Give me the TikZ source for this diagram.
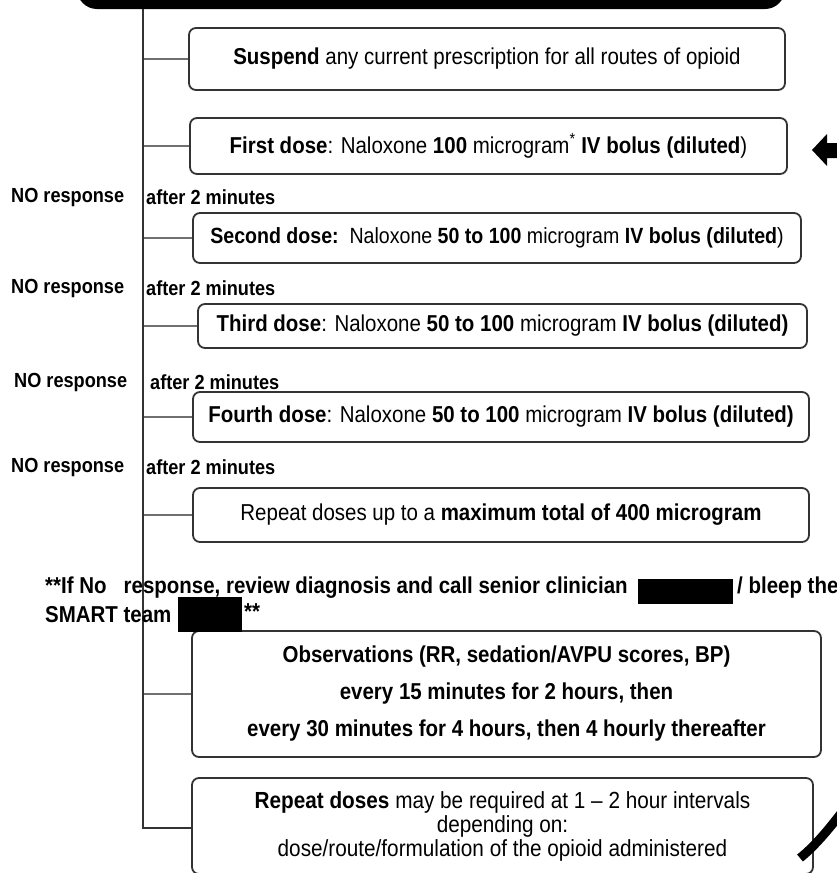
\documentclass[tikz,border=0pt]{standalone}
\usepackage{fontspec}
\setmainfont{Liberation Sans}[FakeStretch=0.89]
\definecolor{boxgray}{HTML}{333333}
\definecolor{conngray}{HTML}{707070}
\begin{document}
\begin{tikzpicture}[x=1pt,y=-1pt,
  box/.style={draw=boxgray, line width=1.8pt, rounded corners=7pt, inner sep=0pt, align=center, font=\fontsize{23}{27}\selectfont},
  conn/.style={draw=conngray, line width=2.2pt},
  trunkline/.style={draw=boxgray, line width=1.6pt},
  lbl/.style={font=\fontsize{20.4}{23}\selectfont\bfseries, anchor=west, inner sep=0pt},
  note/.style={font=\fontsize{23}{26}\selectfont\bfseries, anchor=west, inner sep=0pt},
  redact/.style={fill=black, inner sep=0pt, anchor=north west}]
\useasboundingbox (0,0) rectangle (837,873);
\clip (0,0) rectangle (837,873);
% header bar
\node (hdr) [fill=black, rounded corners=20pt, minimum width=708, minimum height=60, inner sep=0pt] at (431,-21) {};
% trunk
\coordinate (ttop) at (143,9);
\coordinate (tbot) at (143,828);
% boxes
\node (s) [box, minimum width=596, minimum height=62] at (487,59) {\textbf{Suspend} any current prescription for all routes of opioid};
\node (f1) [box, minimum width=597, minimum height=56] at (488.5,146) {\textbf{First dose}: Naloxone \textbf{100} microgram\textsuperscript{*} \textbf{IV bolus (diluted})};
\node (f2) [box, minimum width=608, minimum height=50, font=\fontsize{22}{26}\selectfont] at (497,238) {\textbf{Second dose:}\ \ Naloxone \textbf{50 to 100} microgram \textbf{IV bolus (diluted})};
\node (f3) [box, minimum width=609, minimum height=44] at (502.5,326) {\textbf{Third dose}: Naloxone \textbf{50 to 100} microgram \textbf{IV bolus (diluted)}};
\node (f4) [box, minimum width=616, minimum height=50] at (501,417) {\textbf{Fourth dose}: Naloxone \textbf{50 to 100} microgram \textbf{IV bolus (diluted)}};
\node (r) [box, minimum width=616, minimum height=54] at (501,515) {Repeat doses up to a \textbf{maximum total of 400 microgram}};
\node (o) [box, minimum width=629, minimum height=126, font=\fontsize{23}{37}\selectfont\bfseries] at (506.5,694) {Observations (RR, sedation/AVPU scores, BP)\\every 15 minutes for 2 hours, then\\every 30 minutes for 4 hours, then 4 hourly thereafter};
\node (rd) [box, minimum width=621, minimum height=96, font=\fontsize{23.3}{24}\selectfont] at (502.5,826) {\textbf{Repeat doses} may be required at 1 -- 2 hour intervals\\depending on:\\dose/route/formulation of the opioid administered};
% connectors
\foreach \b in {s,f1,f2,f3,f4,r,o}{
  \draw[conn] (\b.west) -- (\b.west -| ttop);
}
\draw[trunkline] (ttop) -- (tbot) -- (rd.west |- tbot);
% labels
\node (n1) [lbl] at (11,197) {NO response};
\node (a1) [lbl] at (146,197) {after 2 minutes};
\node (n2) [lbl] at (11,288) {NO response};
\node (a2) [lbl] at (146,288) {after 2 minutes};
\node (n3) [lbl] at (14,382) {NO response};
\node (a3) [lbl] at (150,382) {after 2 minutes};
\node (n4) [lbl] at (11,467) {NO response};
\node (a4) [lbl] at (146,467) {after 2 minutes};
% note
\node (t1) [note] at (45,588) {**If No\ \ \ response, review diagnosis and call senior clinician};
\node (k1) [redact, minimum width=95, minimum height=25] at (638,579) {};
\node (t2) [note] at (737,588) {/ bleep the};
\node (t3) [note] at (45,615) {SMART team};
\node (k2) [redact, minimum width=64, minimum height=35] at (178,597) {};
\node (t4) [note] at (244,612) {**};
% side arrows
\fill[black] (812,150) -- (827,134) -- (827,143) -- (845,143) -- (845,158) -- (827,158) -- (827,166) -- cycle;
\draw[line width=9pt, black] (800,858) .. controls (815,846) and (830,828) .. (845,808);
\end{tikzpicture}
\end{document}
